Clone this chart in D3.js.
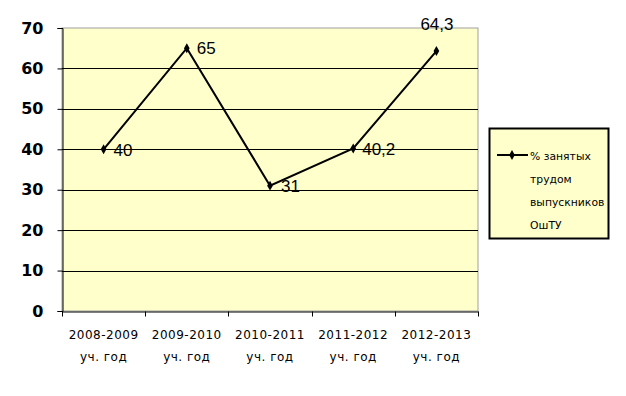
<!DOCTYPE html>
<html lang="ru">
<head>
<meta charset="UTF-8">
<title>% занятых трудом выпускников ОшТУ</title>
<script src="https://d3js.org/d3.v7.min.js"></script>
<style>
  body { margin: 0; background: #fff; }
  svg { display: block; }
</style>
</head>
<body>
<svg id="chart" width="626" height="396"></svg>
<script>
const years = ["2008-2009", "2009-2010", "2010-2011", "2011-2012", "2012-2013"];
const yearSuffix = "уч. год";
const values = [40, 65, 31, 40.2, 64.3];
const valueLabels = ["40", "65", "31", "40,2", "64,3"];
const yTicks = [0, 10, 20, 30, 40, 50, 60, 70];
const legendLines = ["% занятых", "трудом", "выпускников", "ОшТУ"];

const svg = d3.select("#chart");
const plotL = 62, plotR = 478, plotT = 28, plotB = 311;

const x = d3.scaleBand().domain(years).range([plotL, plotR]);
const y = d3.scaleLinear().domain([0, 70]).range([plotB, plotT]);

// plot area
svg.append("rect")
  .attr("x", plotL).attr("y", plotT)
  .attr("width", plotR - plotL).attr("height", plotB - plotT)
  .attr("fill", "#ffffcc")
  .attr("stroke", "#a0a0a0");

// gridlines
svg.append("g").selectAll("line")
  .data(yTicks.filter(d => d > 0 && d < 70))
  .join("line")
  .attr("x1", plotL).attr("x2", plotR)
  .attr("y1", d => Math.round(y(d)) + 0.5).attr("y2", d => Math.round(y(d)) + 0.5)
  .attr("stroke", "#000");

// y axis
const yAxis = svg.append("g")
  .attr("transform", `translate(${plotL + 0.5},0)`)
  .call(d3.axisLeft(y).tickValues(yTicks).tickSize(5).tickPadding(14));
yAxis.select(".domain").attr("stroke", "#000");
yAxis.selectAll(".tick line").attr("stroke", "#000");
yAxis.selectAll("text")
  .attr("font-family", "'DejaVu Sans', Verdana, sans-serif")
  .attr("font-weight", "bold")
  .attr("font-size", 16)
  .attr("fill", "#000");

// x axis
const xAxis = svg.append("g")
  .attr("transform", `translate(0,${plotB + 0.5})`)
  .call(d3.axisBottom(x).tickSize(0).tickFormat(""));
xAxis.select(".domain").attr("stroke", "#000");
const bounds = years.map(d => x(d)).concat([plotR]);
xAxis.append("g").selectAll("line")
  .data(bounds)
  .join("line")
  .attr("x1", d => Math.round(d) + 0.5).attr("x2", d => Math.round(d) + 0.5)
  .attr("y1", 0).attr("y2", 5)
  .attr("stroke", "#000");

const xl = svg.append("g").selectAll("text")
  .data(years)
  .join("text")
  .attr("text-anchor", "middle")
  .attr("font-family", "'DejaVu Sans', Verdana, sans-serif")
  .attr("font-size", 12)
  .attr("letter-spacing", 0.5)
  .attr("fill", "#000");
xl.append("tspan").attr("x", d => x(d) + x.bandwidth() / 2).attr("y", 339).text(d => d);
xl.append("tspan").attr("x", d => x(d) + x.bandwidth() / 2).attr("y", 361).text(yearSuffix);

// line
const pts = years.map((d, i) => [x(d) + x.bandwidth() / 2, y(values[i])]);
svg.append("path")
  .attr("d", d3.line()(pts))
  .attr("fill", "none")
  .attr("stroke", "#000")
  .attr("stroke-width", 2);

const diamond = d3.symbol().type(d3.symbolDiamond).size(28);
svg.append("g").selectAll("path")
  .data(pts)
  .join("path")
  .attr("transform", d => `translate(${d[0]},${d[1]})`)
  .attr("d", diamond)
  .attr("fill", "#000");

// value labels
const labelOffsets = [[10, 7], [10, 6], [11, 6], [9, 7], [-16, -21]];
svg.append("g").selectAll("text")
  .data(pts)
  .join("text")
  .attr("x", (d, i) => d[0] + labelOffsets[i][0])
  .attr("y", (d, i) => d[1] + labelOffsets[i][1])
  .attr("font-family", "'Liberation Sans', Arial, sans-serif")
  .attr("font-size", 17)
  .attr("fill", "#000")
  .text((d, i) => valueLabels[i]);

// legend
const lg = svg.append("g").attr("transform", "translate(489,128)");
lg.append("rect")
  .attr("x", 0.5).attr("y", 0.5)
  .attr("width", 119).attr("height", 110)
  .attr("fill", "#ffffcc")
  .attr("stroke", "#000")
  .attr("stroke-width", 2);
lg.append("line")
  .attr("x1", 8).attr("x2", 39).attr("y1", 27).attr("y2", 27)
  .attr("stroke", "#000").attr("stroke-width", 2);
lg.append("path")
  .attr("transform", "translate(23,27)")
  .attr("d", diamond)
  .attr("fill", "#000");
lg.append("g").selectAll("text")
  .data(legendLines)
  .join("text")
  .attr("x", 41)
  .attr("y", (d, i) => 32 + i * 23)
  .attr("font-family", "'DejaVu Sans', Verdana, sans-serif")
  .attr("font-size", 10.8)
  .attr("fill", "#000")
  .text(d => d);
</script>
</body>
</html>
